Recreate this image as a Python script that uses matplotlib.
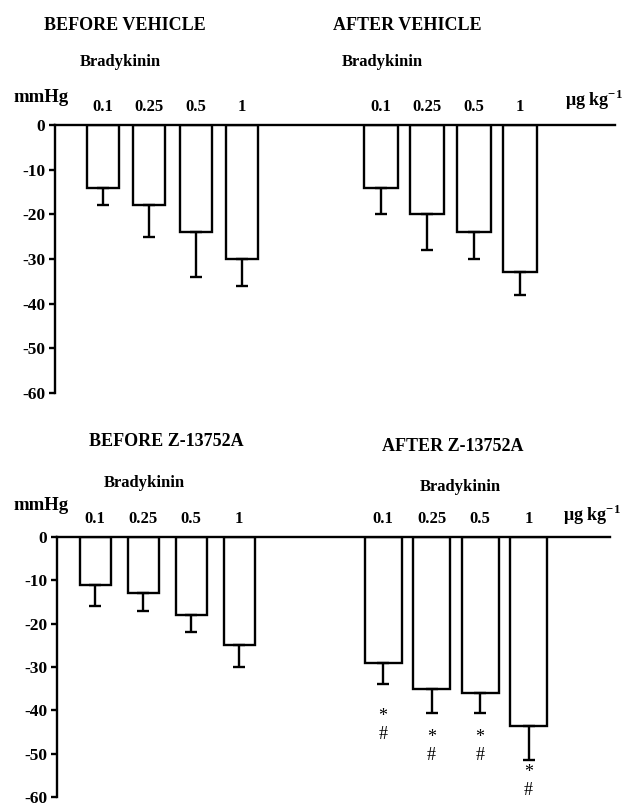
import matplotlib
matplotlib.use('Agg')
import matplotlib.pyplot as plt
import numpy as np

# Dose labels (ug/kg bradykinin)
doses = ['0.1', '0.25', '0.5', '1']

# Fall in blood pressure (mmHg) and SEM
before_vehicle = [-14, -18, -24, -30]
before_vehicle_err = [4, 7, 10, 6]
after_vehicle = [-14, -20, -24, -33]
after_vehicle_err = [6, 8, 6, 5]
before_z = [-11, -13, -18, -25]
before_z_err = [5, 4, 4, 5]
after_z = [-29, -35, -36, -43.5]
after_z_err = [5, 5.5, 4.5, 8]

yticks = [0, -10, -20, -30, -40, -50, -60]

W, H = 623, 806
plt.rcParams['font.family'] = ['Liberation Serif', 'DejaVu Serif']
plt.rcParams['font.weight'] = 'bold'
plt.rcParams['mathtext.fontset'] = 'custom'
plt.rcParams['mathtext.rm'] = 'Liberation Serif'
plt.rcParams['mathtext.bf'] = 'Liberation Serif:bold'

fig = plt.figure(figsize=(W / 100, H / 100), dpi=100)


def ftext(x, y, s, **kw):
    # place text using pixel coordinates of the figure (origin top-left)
    fig.text(x / W, 1 - y / H, s, ha='center', va='center', **kw)


def panel(left, right, top, bottom):
    # axes whose x data units are figure pixels
    ax = fig.add_axes([left / W, 1 - bottom / H, (right - left) / W, (bottom - top) / H])
    ax.set_xlim(left, right)
    ax.set_ylim(-60, 0)
    ax.spines['right'].set_visible(False)
    ax.spines['bottom'].set_visible(False)
    ax.spines['left'].set_linewidth(1.7)
    ax.spines['top'].set_linewidth(1.7)
    ax.set_xticks([])
    ax.set_yticks(yticks)
    ax.set_yticklabels([str(t) for t in yticks])
    ax.tick_params(axis='y', direction='out', length=4, width=1.7, pad=3, labelsize=12.5)
    for lab in ax.get_yticklabels():
        lab.set_fontweight('bold')
    ax.patch.set_alpha(0)
    return ax


def draw_group(ax, start, step, width, vals, errs, label_dy=7):
    x = start + step * np.arange(len(vals))
    ax.bar(x, vals, width=width, color='white', edgecolor='black', linewidth=1.7, zorder=2)
    # only the lower half of the error bar is drawn
    ax.errorbar(x, vals, yerr=[errs, [0] * len(vals)], fmt='none', ecolor='black',
                elinewidth=1.7, capsize=4, capthick=1.7, zorder=3)
    for xi, d in zip(x, doses):
        ax.annotate(d, xy=(xi, 0), xytext=(0, label_dy), textcoords='offset points',
                    ha='center', va='bottom', fontsize=12, fontweight='bold',
                    annotation_clip=False)
    return x


# Top row: vehicle
ax1 = panel(55, 615, 125, 393)
draw_group(ax1, 103, 46.3, 32, before_vehicle, before_vehicle_err)
draw_group(ax1, 381, 46.3, 34, after_vehicle, after_vehicle_err)

# Bottom row: Z-13752A
ax2 = panel(57, 610, 537, 797)
draw_group(ax2, 95, 48, 31, before_z, before_z_err)
xz = draw_group(ax2, 383, 48.5, 37, after_z, after_z_err)

# significance marks below the error bars
mark_drop = [17, 12, 12, 3]
for xi, v, e, d in zip(xz, after_z, after_z_err, mark_drop):
    ax2.annotate('*', xy=(xi, v - e), xytext=(0, -d), textcoords='offset points',
                 ha='center', va='top', fontsize=13, fontweight='normal')
    ax2.annotate('#', xy=(xi, v - e), xytext=(0, -d - 13), textcoords='offset points',
                 ha='center', va='top', fontsize=13, fontweight='normal')

# Titles and labels
ftext(125, 25, 'BEFORE VEHICLE', fontsize=13, fontweight='bold')
ftext(407, 25, 'AFTER VEHICLE', fontsize=13, fontweight='bold')
ftext(120, 62, 'Bradykinin', fontsize=12, fontweight='bold')
ftext(382, 62, 'Bradykinin', fontsize=12, fontweight='bold')
ftext(41, 97, 'mmHg', fontsize=13.5, fontweight='bold')
ftext(594, 100, r'μg kg$^{\mathbf{-1}}$', fontsize=13, fontweight='bold')

ftext(166, 442, 'BEFORE Z-13752A', fontsize=13, fontweight='bold')
ftext(453, 447, 'AFTER Z-13752A', fontsize=13, fontweight='bold')
ftext(144, 483, 'Bradykinin', fontsize=12, fontweight='bold')
ftext(460, 487, 'Bradykinin', fontsize=12, fontweight='bold')
ftext(41, 505, 'mmHg', fontsize=13.5, fontweight='bold')
ftext(592, 515, r'μg kg$^{\mathbf{-1}}$', fontsize=13, fontweight='bold')

fig.savefig('out.png', dpi=100)
